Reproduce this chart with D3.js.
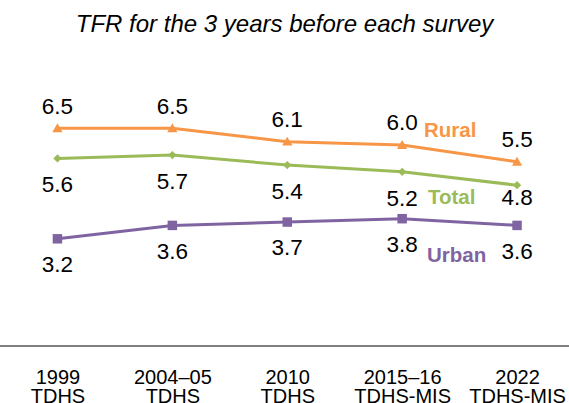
<!DOCTYPE html>
<html><head><meta charset="utf-8">
<script src="https://cdn.jsdelivr.net/npm/d3@7"></script>
<style>
html,body{margin:0;padding:0;background:#fff;}
svg{display:block;font-family:"Liberation Sans",Arial,sans-serif;}
</style></head>
<body>
<svg id="c" width="569" height="403"></svg>
<script>
const categories = ["1999|TDHS","2004–05|TDHS","2010|TDHS","2015–16|TDHS-MIS","2022|TDHS-MIS"];
const rural = [6.5, 6.5, 6.1, 6.0, 5.5];
const total = [5.6, 5.7, 5.4, 5.2, 4.8];
const urban = [3.2, 3.6, 3.7, 3.8, 3.6];
const seriesNames = ["Rural","Total","Urban"];
const title = "TFR for the 3 years before each survey";

const svg = d3.select("#c");
const x = d3.scalePoint().domain(categories).range([0, 574.5]).padding(0.5);
const y = d3.scaleLinear().domain([0, 7]).range([346, 111.5]);

svg.append("text").attr("x", 284.5).attr("y", 24).attr("dy","0.35em").attr("text-anchor","middle")
  .attr("font-size", 24).attr("font-style","italic").attr("fill","#000").text(title);

// axis
const axis = svg.append("g").attr("transform","translate(0,346)")
  .call(d3.axisBottom(x).tickSize(0).tickFormat(""));
axis.select(".domain").attr("d","M0,0H569").attr("stroke","#7f7f7f").attr("stroke-width",2);
axis.selectAll(".tick").each(function(d){
  const t = d3.select(this).append("text").attr("fill","#000").attr("font-size",20)
    .attr("text-anchor","middle").attr("font-family","Liberation Sans, Arial, sans-serif");
  d.split("|").forEach((s,i)=>{
    t.append("tspan").attr("x",0).attr("y", 30.5 + i*19).attr("dy","0.35em").text(s);
  });
});

const series = [
  {name: seriesNames[0], vals: rural, color:"#F79646", marker:"tri", off:-22.5, lab:[424,130]},
  {name: seriesNames[1], vals: total, color:"#9BBB59", marker:"dia", off:26, lab:[428,197]},
  {name: seriesNames[2], vals: urban, color:"#8064A2", marker:"sq", off:25.5, lab:[427,255]}
];
const line = d3.line().x((d,i)=>x(categories[i])).y(d=>y(d));
const sym = {tri: d3.symbolTriangle, dia: d3.symbolSquare, sq: d3.symbolSquare};
const size = {tri: 45, dia: 34, sq: 90};

series.forEach(s=>{
  svg.append("path").datum(s.vals).attr("d", line).attr("fill","none")
    .attr("stroke", s.color).attr("stroke-width", 3);
  svg.selectAll(null).data(s.vals).enter().append("path")
    .attr("transform",(d,i)=>`translate(${x(categories[i])},${y(d) + (s.marker==="tri"?1:0)})` + (s.marker==="dia"?" rotate(45)":""))
    .attr("d", d3.symbol().type(sym[s.marker]).size(size[s.marker]))
    .attr("fill", s.color);
  svg.selectAll(null).data(s.vals).enter().append("text")
    .attr("x",(d,i)=>x(categories[i]))
    .attr("y",(d,i)=> y(d) + ((s.name==="Total" && i===4) ? 11.5 : s.off))
    .attr("dy","0.35em").attr("text-anchor","middle").attr("font-size",22.5).attr("fill","#000")
    .text(d=>d.toFixed(1));
  svg.append("text").attr("x", s.lab[0]).attr("y", s.lab[1]).attr("dy","0.35em")
    .attr("font-size",20.5).attr("font-weight","bold").attr("fill", s.color).text(s.name);
});
</script>
</body></html>
